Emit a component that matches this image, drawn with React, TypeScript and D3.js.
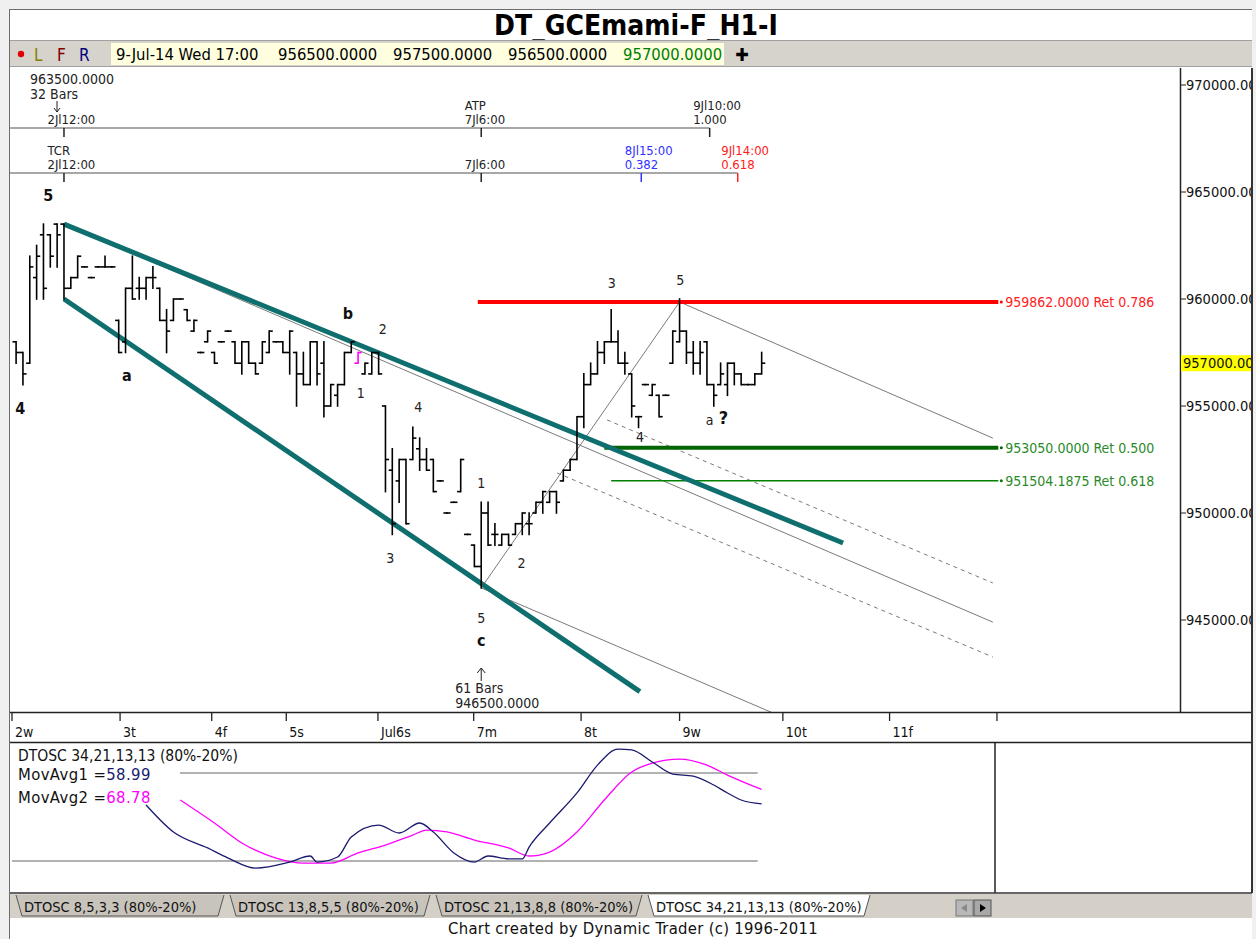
import React from 'react';
import * as d3 from 'd3';

// ---------- DATA ----------
const barHigh = [958000,957500,962000,962500,963500,963000,963500,963500,961000,962000,
 961500,961000,961500,962000,961500,959000,960500,962000,961000,961000,
 961500,960500,959500,960000,960000,959500,959000,957500,958500,957500,
 958000,958500,958000,958000,958000,957000,958000,958500,958000,958000,
 958500,957500,957500,958000,958000,958000,956000,956000,957500,958000,
 957500,957000,957500,957500,955000,953000,952500,952500,954000,953500,
 953000,952500,951500,950000,950500,952500,949000,948500,950500,950500,
 949500,949000,949000,949500,950000,950000,950500,951000,951000,951000,
 952000,952500,954500,956500,957000,958000,958000,959500,958500,957500,
 956500,954500,956000,956000,955500,955500,958500,960000,958500,958000,
 958000,958000,956000,957000,957000,957000,956500,956000,956500,957500];
const barLow = [957000,956000,957000,960000,960000,961500,961500,960000,960500,961000,
 961500,961000,961500,961500,961500,957500,957500,960000,960000,960000,
 960500,959000,957500,959000,960000,959000,958500,957500,958000,957000,
 958000,958500,957000,956500,957000,956500,957000,957500,958000,957500,
 956500,955000,956000,956000,956000,954500,955000,955000,956000,957500,
 957000,956500,956500,956500,951000,949000,950500,949500,952500,952000,
 952000,951000,951500,950000,950500,951000,949000,947500,946500,948500,
 948500,948500,948500,949000,949000,949000,950000,950000,950500,950000,
 951500,952000,952500,954000,956000,956500,957000,958000,957000,956500,
 954500,954000,956000,955500,954500,955500,957000,958000,957000,956500,
 956500,956000,955000,956000,955500,956000,956000,956000,956000,956500];
const barOpen = [958000,957500,957000,961000,963000,963000,963500,963500,960500,961000,
 961500,961000,961500,961500,961500,959000,958000,960500,960500,960500,
 961000,960500,959000,959000,960000,959500,958500,957500,958000,957500,
 958000,958500,958000,957000,958000,957000,957000,957500,958000,958000,
 957500,957500,956500,956000,958000,957000,955000,955500,956000,957500,
 957000,956500,956500,957500,955000,952000,951500,952500,952500,953000,
 952500,952500,951500,950000,950500,951000,949000,948500,947500,950000,
 949000,948500,949000,949000,949500,949500,950000,950500,950500,951000,
 951500,952000,952500,954500,956000,956500,957500,958000,958000,957000,
 956500,954500,956000,955500,955500,955500,957000,958000,958500,957500,
 957000,958000,956000,956000,956000,957000,956500,956000,956000,956500];
const barClose = [957500,956500,961500,962000,960500,962000,963000,960500,961000,962000,
 961500,961000,961500,961500,961500,957500,960500,960000,960500,961000,
 961000,959000,958500,960000,960000,959000,959000,957500,958500,957000,
 958000,958500,957000,958000,957000,956500,958000,958500,958000,957500,
 958500,956500,956000,958000,956500,955000,956000,956000,957500,958000,
 957500,957000,957500,956500,952500,949500,952500,949500,953500,952500,
 952000,951000,951500,950000,950500,952500,949000,947500,950000,948500,
 949000,949000,948500,949500,950000,949500,950500,951000,951000,950500,
 952000,952500,954500,956000,956500,957500,958000,958000,957000,957000,
 955000,954500,956000,956000,954500,955500,958500,958500,957500,957000,
 957500,956000,955500,956500,957000,956500,956000,956000,956500,957000];
const magentaBar = 50;

const dayTickIdx = [-0.6, 15.2, 28.6, 39.5, 52.9, 66.9, 82.6, 97.0, 112.1, 127.7, 143.4];
const dayTickLabels = ['2w', '3t', '4f', '5s', 'Jul6s', '7m', '8t', '9w', '10t', '11f', '12s'];

const priceTicks = [945000, 950000, 955000, 960000, 965000, 970000];
const lastPrice = 957000;

// trend lines [idx, price]
const channelTop = [[7, 963500], [120.9, 948600]];
const channelBottom = [[7, 960000], [91.2, 941650]];
const grayUpper = [[7, 963500], [142.8, 944900]];
const grayFromLow = [[68, 946500], [142.8, 936250]];
const grayFromPeak = [[97, 959862], [142.8, 953500]];
const grayLowToPeak = [[68, 946500], [97, 959862]];
const dashedA = [[86.4, 954350], [142.8, 946730]];
const dashedB = [[79.1, 951870], [142.8, 943270]];

const retLevels = [959862, 953050, 951504.1875];
const retStartIdx = [67.5, 86, 87];
const retEndIdx = 143.6;
const retLabels = ['959862.0000 Ret 0.786', '953050.0000 Ret 0.500', '951504.1875 Ret 0.618'];
const retColors = ['#ff0000', '#006400', '#008000'];
const retWidths = [4, 4, 1.5];
const retTextColors = ['#ff2020', '#2a8a2a', '#2a8a2a'];

// time rulers
const ruler1Idx = [7, 68, 101.4];
const ruler1Top = ['', 'ATP', '9Jl10:00'];
const ruler1Bot = ['2Jl12:00', '7Jl6:00', '1.000'];
const ruler2Idx = [7, 68, 91.4, 105.5];
const ruler2Top = ['TCR', '', '8Jl15:00', '9Jl14:00'];
const ruler2Bot = ['2Jl12:00', '7Jl6:00', '0.382', '0.618'];
const ruler2Colors = ['#222', '#222', '#3030ff', '#ff2020'];

// wave labels [idx, price]
const boldLabels = ['5', '4', 'a', 'b', 'c', '?'];
const boldIdx = [4.7, 0.6, 16.2, 48.5, 68, 103.4];
const boldPrice = [964860, 954900, 956450, 959350, 944060, 954450];
const waveLabels = ['2', '1', '4', '3', '1', '2', '5', '3', '5', '4', 'a'];
const waveIdx = [53.6, 50.4, 58.8, 54.7, 68, 73.9, 68, 87.1, 97.1, 91.2, 101.4];
const wavePrice = [958600, 955600, 954950, 947900, 951400, 947660, 945090, 960750, 960890, 953550, 954350];

// oscillator
const osc1Idx = [19,23,28,31,35,40,43,44,47,49,53,56,59,61,64,67,69,72,74,75,78,82,85,88,90,93,96,99,102,104,106,109];
const osc1Val = [58.2,39.8,28.9,22.0,15.2,19.3,23.4,19.3,22.7,36.4,44.5,39.1,45.9,39.8,25.5,19.3,23.4,21.4,21.4,29.5,45.9,66.4,85.4,96.3,95.7,87.5,79.3,77.9,71.8,66.4,61.6,58.99];
const osc2Idx = [24,29,33,38,42,46,50,54,58,60,63,67,72,75,78,82,86,90,93,97,101,104,109];
const osc2Val = [61.6,45.9,32.3,22.0,18.6,18.6,25.5,30.9,37.7,41.1,39.8,34.3,28.9,23.4,26.1,39.8,61.6,80.7,86.8,89.5,85.4,78.6,68.78];
const oscLevels = [80, 20];

const tabLabels = ['DTOSC 8,5,3,3 (80%-20%)', 'DTOSC 13,8,5,5 (80%-20%)', 'DTOSC 21,13,8,8 (80%-20%)', 'DTOSC 34,21,13,13 (80%-20%)'];
const headerValues = ['956500.0000', '957500.0000', '956500.0000', '957000.0000'];

// ---------- LAYOUT ----------
const W = 1256, H = 939;
const L = 10, plotR = 993, axisX = 1180, RE = 1252;
const pTop = 68, pBot = 712, oTop = 742, oBot = 893;
const F = "'Liberation Sans Narrow','DejaVu Sans Condensed','Arial Narrow',sans-serif";

export default function App() {
  const x = d3.scaleLinear().domain([0, 109]).range([16.1, 16.1 + 109 * 6.84]);
  const y = d3.scaleLinear().domain([945000, 970000]).range([620, 85]);
  const yo = d3.scaleLinear().domain([20, 80]).range([861, 773]);
  const ln = d3.line<number[]>().x(d => x(d[0])).y(d => y(d[1]));
  const o1 = d3.line<number>().curve(d3.curveMonotoneX).x((_, i) => x(osc1Idx[i])).y(d => yo(d))(osc1Val) || '';
  const o2 = d3.line<number>().curve(d3.curveMonotoneX).x((_, i) => x(osc2Idx[i])).y(d => yo(d))(osc2Val) || '';

  const rulerY1 = 128, rulerY2 = 173;
  const tabX = [8, 222, 428, 640, 868];

  return (
    <svg width={W} height={H} style={{ position: 'absolute', left: 0, top: 0 }} fontFamily={F}>
      <defs>
        <clipPath id="pc"><rect x={L} y={pTop} width={axisX - L} height={pBot - pTop} /></clipPath>
        <clipPath id="xc"><rect x={L} y={pBot} width={plotR + 5 - L} height={oTop - pBot} /></clipPath>
        <clipPath id="ac"><rect x={axisX} y={pTop} width={RE - axisX} height={pBot - pTop} /></clipPath>
      </defs>
      <rect width={W} height={H} fill="#f0f0f0" />
      {/* window */}
      <rect x={9} y={9} width={RE - 9} height={H - 9} fill="#ffffff" />
      <line x1={9} x2={RE} y1={9.5} y2={9.5} stroke="#6d6d6d" />
      <line x1={9.5} x2={9.5} y1={9} y2={H} stroke="#6d6d6d" />
      {/* title */}
      <text x={636} y={35} textAnchor="middle" fontSize={28} fontWeight="bold" fill="#000">DT_GCEmami-F_H1-I</text>
      {/* toolbar */}
      <rect x={10} y={40} width={RE - 10} height={26} fill="#d6d3cc" />
      <line x1={10} x2={RE} y1={40.5} y2={40.5} stroke="#a0a0a0" />
      <line x1={10} x2={RE} y1={66.5} y2={66.5} stroke="#a0a0a0" />
      <circle cx={21} cy={54} r={3.2} fill="#e00000" />
      <text x={34} y={61} fontSize={17} fill="#808000">L</text>
      <text x={57} y={61} fontSize={17} fill="#800000">F</text>
      <text x={79} y={61} fontSize={17} fill="#000080">R</text>
      <rect x={111} y={43} width={613} height={22} fill="#ffffe0" />
      <text x={116} y={60} fontSize={16.5} fill="#000">9-Jul-14 Wed 17:00</text>
      {headerValues.map((v, i) => (
        <text key={v + i} x={278 + i * 115} y={60} fontSize={16.5} fill={i === 3 ? '#008000' : '#000'}>{v}</text>
      ))}
      <rect x={724} y={43} width={30} height={22} fill="#d6d3cc" />
      <text x={742} y={61} fontSize={18} fontWeight="bold" textAnchor="middle" fill="#000">✚</text>

      {/* price panel */}
      <rect x={L} y={pTop} width={RE - L} height={pBot - pTop} fill="#fff" />
      <g clipPath="url(#pc)">
        {[grayUpper, grayFromLow, grayFromPeak, grayLowToPeak].map((d, i) => (
          <path key={'g' + i} d={ln(d as any) || ''} stroke="#7a7a7a" strokeWidth={1} fill="none" />
        ))}
        {[dashedA, dashedB].map((d, i) => (
          <path key={'d' + i} d={ln(d as any) || ''} stroke="#7a7a7a" strokeWidth={1} strokeDasharray="4,4" fill="none" />
        ))}
        {retLevels.map((p, i) => (
          <g key={'r' + i}>
            <line x1={x(retStartIdx[i])} x2={x(retEndIdx)} y1={y(p)} y2={y(p)} stroke={retColors[i]} strokeWidth={retWidths[i]} />
            <circle cx={x(retEndIdx) + 3} cy={y(p)} r={1.5} fill={retColors[i]} />
            <text x={x(retEndIdx) + 7} y={y(p)} dy="0.35em" fontSize={14} fill={retTextColors[i]}>{retLabels[i]}</text>
          </g>
        ))}
        {[channelTop, channelBottom].map((d, i) => (
          <path key={'c' + i} d={ln(d as any) || ''} stroke="#0f6e6e" strokeWidth={5} fill="none" />
        ))}
        {barHigh.map((h, i) => {
          const cx = x(i);
          const col = i === magentaBar ? '#ff00ff' : '#000';
          return (
            <g key={'b' + i} stroke={col} strokeWidth={1.6}>
              <line x1={cx} x2={cx} y1={y(h) - 0.8} y2={y(barLow[i]) + 0.8} />
              <line x1={cx - 3.6} x2={cx} y1={y(barOpen[i])} y2={y(barOpen[i])} />
              <line x1={cx} x2={cx + 3.6} y1={y(barClose[i])} y2={y(barClose[i])} />
            </g>
          );
        })}
        {boldLabels.map((t, i) => (
          <text key={'bl' + i} x={x(boldIdx[i])} y={y(boldPrice[i])} dy="0.35em" textAnchor="middle" fontSize={t === '?' ? 18 : 16} fontWeight="bold" fill="#111">{t}</text>
        ))}
        {waveLabels.map((t, i) => (
          <text key={'wl' + i} x={x(waveIdx[i])} y={y(wavePrice[i])} dy="0.35em" textAnchor="middle" fontSize={14} fill="#222">{t}</text>
        ))}
        <line x1={L} x2={x(ruler1Idx[2])} y1={rulerY1} y2={rulerY1} stroke="#8a8a8a" strokeWidth={1.5} />
        {ruler1Idx.map((d, i) => (
          <g key={'r1' + i}>
            <line x1={x(d)} x2={x(d)} y1={rulerY1} y2={rulerY1 + 9} stroke="#222" strokeWidth={1.5} />
            <text x={x(d) - 16.5} y={rulerY1 - 18} fontSize={13} fill="#222">{ruler1Top[i]}</text>
            <text x={x(d) - 16.5} y={rulerY1 - 4} fontSize={13} fill="#222">{ruler1Bot[i]}</text>
          </g>
        ))}
        <line x1={L} x2={x(ruler2Idx[3])} y1={rulerY2} y2={rulerY2} stroke="#8a8a8a" strokeWidth={1.5} />
        {ruler2Idx.map((d, i) => (
          <g key={'r2' + i}>
            <line x1={x(d)} x2={x(d)} y1={rulerY2} y2={rulerY2 + 9} stroke={ruler2Colors[i]} strokeWidth={1.5} />
            <text x={x(d) - 16.5} y={rulerY2 - 18} fontSize={13} fill={ruler2Colors[i]}>{ruler2Top[i]}</text>
            <text x={x(d) - 16.5} y={rulerY2 - 4} fontSize={13} fill={ruler2Colors[i]}>{ruler2Bot[i]}</text>
          </g>
        ))}
        <text x={30} y={84} fontSize={14} fill="#222">963500.0000</text>
        <text x={30} y={99} fontSize={14} fill="#222">32 Bars</text>
        <line x1={57} x2={57} y1={101} y2={112} stroke="#222" />
        <path d="M54,108 L57,112 L60,108" stroke="#222" fill="none" />
        <text x={x(68) - 26} y={693} fontSize={14} fill="#222">61 Bars</text>
        <text x={x(68) - 26} y={708} fontSize={14} fill="#222">946500.0000</text>
        <line x1={x(68)} x2={x(68)} y1={668} y2={681} stroke="#222" />
        <path d={`M${x(68) - 4},673 L${x(68)},668 L${x(68) + 4},673`} stroke="#222" fill="none" />
      </g>

      {/* right axis */}
      <line x1={axisX + 0.5} x2={axisX + 0.5} y1={pTop} y2={pBot} stroke="#222" strokeWidth={1.5} />
      <g clipPath="url(#ac)">
        {priceTicks.map(p => (
          <g key={'pt' + p}>
            <line x1={axisX} x2={axisX + 6} y1={y(p)} y2={y(p)} stroke="#222" />
            <text x={axisX + 6} y={y(p)} dy="0.35em" fontSize={14.5} fill="#111">{d3.format('.2f')(p)}</text>
          </g>
        ))}
        <rect x={axisX + 1} y={y(lastPrice) - 8} width={RE - axisX - 1} height={16} fill="#ffff00" />
        <text x={axisX + 3} y={y(lastPrice)} dy="0.35em" fontSize={14.5} fill="#111">{d3.format('.2f')(lastPrice)}</text>
      </g>

      {/* x axis strip */}
      <line x1={L} x2={RE} y1={pBot + 0.5} y2={pBot + 0.5} stroke="#222" strokeWidth={1.5} />
      <g clipPath="url(#xc)">
        {dayTickIdx.map((d, i) => (
          <g key={'dt' + i}>
            <line x1={x(d)} x2={x(d)} y1={pBot} y2={pBot + 9} stroke="#222" strokeWidth={1.3} />
            <text x={x(d) + 3} y={pBot + 25} fontSize={14} fill="#111">{dayTickLabels[i]}</text>
          </g>
        ))}
      </g>
      <line x1={L} x2={RE} y1={oTop + 0.5} y2={oTop + 0.5} stroke="#222" strokeWidth={1.5} />

      {/* oscillator */}
      <line x1={plotR + 2} x2={plotR + 2} y1={oTop} y2={oBot} stroke="#222" strokeWidth={1.5} />
      {oscLevels.map((v, i) => (
        <line key={'ol' + v} x1={i === 0 ? 180 : 12} x2={x(109) - 4} y1={yo(v)} y2={yo(v)} stroke="#999" strokeWidth={1.5} />
      ))}
      <path d={o2} stroke="#ff00ff" strokeWidth={1.3} fill="none" />
      <path d={o1} stroke="#1a1a70" strokeWidth={1.3} fill="none" />
      <text x={18} y={761} fontSize={15.5} fill="#111">DTOSC 34,21,13,13 (80%-20%)</text>
      <text x={18} y={780} fontSize={16.5} letterSpacing={0.4} fill="#111">MovAvg1 =<tspan fill="#1a1a70">58.99</tspan></text>
      <text x={18} y={803} fontSize={16.5} letterSpacing={0.4} fill="#111">MovAvg2 =<tspan fill="#ff00ff">68.78</tspan></text>

      {/* borders */}
      <line x1={RE} x2={RE} y1={pTop} y2={oBot} stroke="#333" strokeWidth={2} />
      <line x1={L} x2={RE} y1={oBot} y2={oBot} stroke="#333" strokeWidth={1.5} />

      {/* tabs */}
      <rect x={L} y={oBot + 1} width={RE - L} height={24} fill="#d4d0c8" />
      {tabLabels.map((t, i) => {
        const a = tabX[i], b = tabX[i + 1];
        const active = i === 3;
        return (
          <g key={'tab' + i}>
            <path d={`M${a + 8},${oBot + 2} L${a + 14},${oBot + 23} L${b - 4},${oBot + 23} L${b + 2},${oBot + 2}`}
              fill={active ? '#fff' : '#c8c4bc'} stroke="#555" strokeWidth={1} />
            <text x={a + 16} y={oBot + 19} fontSize={14.5} fill="#111">{t}</text>
          </g>
        );
      })}
      <rect x={956} y={900} width={17} height={16} fill="#b8b8b8" stroke="#777" />
      <rect x={974} y={900} width={17} height={16} fill="#a8a8a8" stroke="#555" />
      <path d="M967,904 L961,908 L967,912 Z" fill="#888" />
      <path d="M980,904 L986,908 L980,912 Z" fill="#000" />

      {/* footer */}
      <rect x={10} y={918} width={RE - 10} height={21} fill="#fff" />
      <text x={633} y={934} textAnchor="middle" fontSize={16.5} letterSpacing={0.3} fill="#111">Chart created by Dynamic Trader  (c) 1996-2011</text>
    </svg>
  );
}
